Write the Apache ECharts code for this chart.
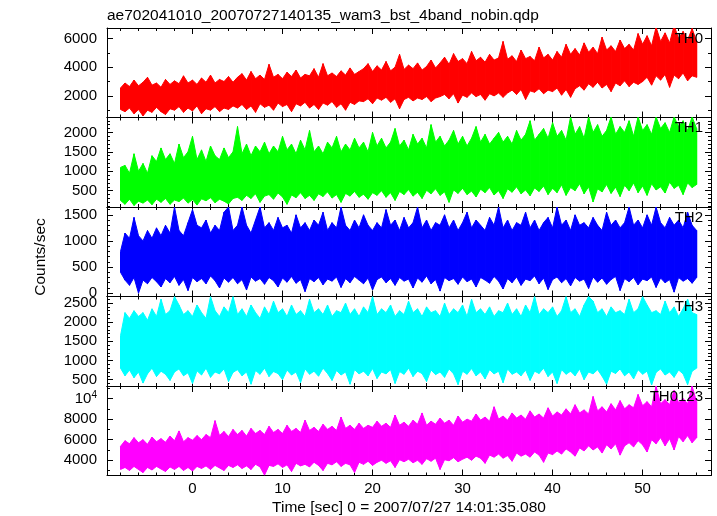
<!DOCTYPE html>
<html><head><meta charset="utf-8">
<script src="https://cdn.jsdelivr.net/npm/echarts@6/dist/echarts.min.js"></script>
<style>html,body{margin:0;padding:0;background:#fff}#c{width:717px;height:516px}</style>
</head><body><div id="c"></div>
<script>
// ---------- DATA (envelopes, one value per 0.5 s bin) ----------
const binStart = -8, binStep = 0.5;
const titleText = 'ae702041010_20070727140135_wam3_bst_4band_nobin.qdp';
const xTitle = 'Time [sec] 0 = 2007/07/27 14:01:35.080';
const yTitle = 'Counts/sec';
const panelNames = ['TH0', 'TH1', 'TH2', 'TH3', 'TH0123'];
const xLabels = [0, 10, 20, 30, 40, 50];
const xMinorTicks = [-8, -6, -4, -2, 2, 4, 6, 8, 12, 14, 16, 18, 22, 24, 26, 28, 32, 34, 36, 38, 42, 44, 46, 48, 52, 54, 56];
const yLabels = [[2000, 4000, 6000], [500, 1000, 1500, 2000], [0, 500, 1000, 1500], [500, 1000, 1500, 2000, 2500], [4000, 6000, 8000, 10000]];

const th0Hi = [2550,2900,2650,3100,2700,2950,3300,2750,2900,2600,3150,2800,
 3050,2850,3400,2900,3100,2800,3250,2950,3450,2900,3150,3000,3350,2950,
 3300,3550,3100,3700,3200,3450,3150,4200,3300,3500,3200,3650,3350,3800,3250,3500,3400,3900,3300,4250,3400,3600,3350,3750,3450,3950,3500,3700,
 3900,4250,3700,4100,3800,4400,3750,4000,4900,3850,4150,3900,4300,3800,4050,4500,3950,
 4300,4700,4200,4950,4400,4600,4250,5100,4450,4700,4350,4900,4500,4650,5800,
 4550,4800,4400,5200,4600,4750,4450,5400,4650,4900,4500,5100,4700,5600,
 4900,5300,4850,5700,5050,5400,4950,6100,5200,5500,5100,5900,5300,5600,5200,6350,
 5600,6200,5500,6800,5800,6400,5700,6900,6000,6500,5900,6700,5800];
const th0Lo = [1050,900,1150,750,1050,600,1000,850,1200,900,700,1100,
 1000,1250,850,1150,950,1300,750,1100,1000,1250,900,1150,1050,1300,
 1150,1400,1050,1300,850,1450,1200,1350,1000,1500,1250,1400,900,1450,1300,1550,1150,1400,1050,1500,1350,1600,1200,1450,1000,1550,1400,1650,
 1600,1800,1450,1850,1700,1900,1550,1800,1100,1750,1900,1650,1850,1750,1950,1600,1850,
 1950,2100,1800,2150,1500,2050,1900,2200,1950,2100,1700,2150,2000,2200,1900,
 2200,2400,2100,2450,1750,2350,2250,2500,2150,2400,2300,2550,2050,2450,
 1900,2500,2700,2400,2850,2600,2950,2550,2800,2300,2900,2700,3050,2650,2950,2800,
 3000,3300,2750,3400,3100,3500,2600,3450,3200,3600,3050,3400,3300];

const th1Hi = [1100,1150,950,1450,1000,1200,950,1400,
 1250,1600,1300,1450,1200,1700,1350,1500,1900,
 1300,1550,1250,1650,1400,1300,1600,1350,1500,
 2150,1450,1700,1400,1650,1500,
 1750,1450,1650,1500,1900,1550,1700,1450,1800,1550,2050,1500,1650,1450,1750,1600,1900,1500,1700,1550,1850,1600,1750,1500,2000,
 1650,1850,1600,1750,2100,1650,1800,1550,1950,1700,1850,1600,2200,1750,1900,1650,1800,2050,1700,1900,1650,1850,2150,1750,1950,1700,1850,2000,1750,1900,1700,2050,1800,1950,2300,1800,
 1950,2100,1850,2250,1900,2050,1800,2400,1950,2150,1850,2400,2000,2200,1900,2050,2400,1950,2150,2000,2300,1900,2400,2050,2200,1950,2400,2100,2250,2000,2400,2150,2300,2050,2400,2100];
const th1Lo = [250,150,280,120,230,180,260,140,
 280,200,300,150,260,220,310,180,270,130,290,240,320,190,280,230,160,300,
 330,250,380,300,420,200,360,400,280,440,340,150,390,320,450,300,380,250,420,350,470,310,400,200,430,360,480,330,410,280,450,
 380,500,330,450,250,480,400,530,360,460,300,510,420,550,380,470,200,520,430,560,400,490,340,540,450,580,390,500,300,550,460,600,420,520,370,570,
 480,620,400,560,450,650,380,580,500,680,420,600,210,550,470,660,430,590,350,640,500,700,450,620,380,680,520,600,440,720,560,640,400,700,580,660];

const th2Hi = [800,1150,1050,1450,1100,1000,1200,1050,1250,1100,
 1300,1150,1650,1200,1100,1350,1600,1300,1250,1400,
 1150,1300,1200,1550,1650,1200,1300,1650,1300,1150,
 1400,1650,1250,1350,1200,1450,1250,1300,1150,1500,
 1250,1350,1200,1400,1300,1550,1200,1350,1250,1650,
 1300,1200,1400,1250,1500,1300,1200,1350,1250,1600,
 1300,1400,1200,1450,1250,1350,1650,1250,1400,1200,
 1350,1300,1500,1250,1400,1200,1350,1550,1250,1400,
 1300,1200,1450,1300,1650,1250,1400,1200,1350,1300,
 1550,1250,1400,1200,1350,1450,1250,1650,1300,1400,
 1200,1500,1300,1350,1250,1450,1300,1200,1550,1300,
 1400,1250,1350,1650,1300,1400,1250,1500,1300,1650,
 1350,1250,1450,1300,1400,1250,1550,1300,1200];
const th2Lo = [400,250,150,300,0,250,180,300,220,120,
 280,200,320,150,260,50,300,220,280,180,
 330,240,100,290,210,300,180,260,60,310,
 230,280,170,300,240,120,290,210,320,190,
 260,30,280,220,300,160,270,230,310,110,
 280,200,320,250,180,290,60,260,310,200,
 280,150,300,230,270,100,290,210,330,180,
 260,40,300,240,280,170,310,220,270,120,
 300,250,190,320,230,80,280,200,310,150,
 270,240,330,180,290,70,260,310,200,280,
 140,300,230,270,90,310,210,290,170,260,
 320,50,280,220,300,160,270,240,310,110,
 290,200,260,20,300,230,280,190,300];

const th3Hi = [1650,2250,2100,2300,2150,2250,2050,2350,2150,2600,
 2200,2300,2672,2450,2200,2300,2150,2450,2250,2100,
 2672,2300,2150,2400,2250,2672,2200,2350,2150,2450,
 2250,2100,2400,2200,2550,2250,2350,2150,2450,2200,
 2300,2150,2600,2250,2350,2200,2450,2150,2300,2250,
 2500,2200,2350,2150,2400,2250,2672,2200,2350,2250,
 2450,2150,2300,2200,2550,2250,2350,2150,2400,2250,
 2300,2150,2500,2200,2350,2250,2450,2150,2600,2250,
 2350,2200,2400,2150,2300,2250,2500,2200,2350,2150,
 2450,2250,2672,2200,2350,2250,2400,2150,2300,2672,
 2250,2350,2150,2450,2672,2550,2250,2350,2150,2400,
 2250,2300,2200,2600,2250,2350,2672,2450,2250,2300,
 2200,2550,2250,2400,2150,2350,2600,2250,2200];
const th3Lo = [800,600,750,550,700,410,650,800,580,720,
 640,480,700,780,600,680,400,730,620,800,
 560,700,650,780,450,690,760,600,700,380,
 740,640,800,580,710,660,500,750,620,700,
 420,780,640,720,590,800,660,480,740,620,
 700,380,760,650,720,600,790,530,700,650,
 760,400,710,640,800,580,720,660,450,750,
 630,700,560,780,650,370,720,640,790,600,
 700,520,760,650,720,420,780,640,700,600,
 750,480,720,660,800,580,700,400,760,640,
 720,600,780,500,700,650,760,590,380,720,
 660,780,600,700,520,760,640,720,360,690,
 780,620,700,560,750,650,370,720,800];

const th0123Hi = [5350,5900,5600,6200,5700,6000,5550,6250,5800,
 6100,5750,6350,5900,6850,5800,6200,5950,6400,6000,
 6500,6200,7850,6400,6800,6300,7000,6500,6900,6350,7100,6600,6900,6500,7300,
 6700,7000,6600,7400,6800,7100,6700,7900,6900,7200,6800,7500,7000,7300,6900,8200,7100,7400,7000,7600,7100,7400,7200,
 7800,7300,7600,7200,8400,7400,7700,7300,7900,7500,8600,7400,7800,7500,8100,7600,7900,7400,8300,7700,
 8000,7800,8500,7900,8200,7800,9200,8000,8300,7900,8600,8100,8400,8000,8800,8200,8500,8100,9100,8300,
 8700,8400,9000,8500,9400,8600,8900,8500,10200,8800,9200,8700,9500,8900,9800,9000,
 9400,9100,10400,9300,9700,9200,11200,9500,9900,9400,10800,9600,10000,9500,11200,9700];
const th0123Lo = [3100,3300,3000,3400,3100,2800,3300,3050,3400,
 3150,2900,3350,3100,3400,3000,3300,2950,3400,3200,
 3450,3100,3500,3250,3000,3500,3300,3550,3200,3450,3100,3600,3350,2550,3500,
 3400,3650,3300,3550,2900,3700,3450,3600,3350,3800,3500,3000,3700,3550,3850,3400,3700,3550,2800,3800,3600,3900,3500,
 3800,4000,3700,3950,3300,4050,3850,4100,3750,4000,3600,4150,3900,4200,3100,4050,3950,4250,3850,4100,
 4300,4000,4400,4200,3700,4500,4300,4600,4200,4450,3900,4700,4400,4600,4300,4800,4500,3800,4700,4550,
 4900,4600,5100,4800,4400,5200,4900,5400,5000,5300,4700,5500,5100,5600,4500,5400,
 5700,5300,5900,5500,4800,6000,5600,6200,5400,6100,5000,6300,5800,6400,5700,6200];

const panelHi = [th0Hi, th1Hi, th2Hi, th3Hi, th0123Hi];
const panelLo = [th0Lo, th1Lo, th2Lo, th3Lo, th0123Lo];

// ---------- STYLE / LAYOUT ----------
const panelColors = ['#ff0000', '#00ff00', '#0000ff', '#00ffff', '#ff00ff'];
const yMin = [490, 80, -64, 333, 2515];
const yMax = [6740, 2384, 1650, 2672, 11223];
const xMin = -9.5, xMax = 57.6;
const FONT = '"Liberation Sans", Arial, Helvetica, sans-serif';
const FS = 15, FS_T = 15.5;
const BLACK = '#000';
const gridLeft = 107, gridWidth = 604, gridTop0 = 28, panelH = 89.5;

function steps(a, b, s, skip) {
  const r = [];
  for (let v = a; v <= b + 1e-9; v += s) if (skip.indexOf(v) < 0) r.push(v);
  return r;
}
const yMinorTicks = [
  [1000, 3000, 5000],
  steps(100, 2300, 100, yLabels[1]),
  steps(0, 1600, 100, yLabels[2]),
  steps(400, 2600, 100, yLabels[3]),
  [3000, 5000, 7000, 9000, 11000]
];

const grids = [], xAxes = [], yAxes = [], series = [], graphics = [];
const lineSt = { color: BLACK, width: 1 };

function mkX(k, pos, ticks, len, showLine, showLabel) {
  return {
    gridIndex: k, type: 'value', position: pos, min: xMin, max: xMax,
    axisLine: { show: showLine, onZero: false, lineStyle: lineSt },
    axisTick: { show: true, inside: true, length: len, customValues: ticks, lineStyle: lineSt },
    axisLabel: { show: showLabel, customValues: xLabels, margin: 6, color: BLACK, fontSize: FS, fontFamily: FONT },
    splitLine: { show: false }, minorTick: { show: false }
  };
}
function mkY(k, pos, ticks, len, showLine, showLabel) {
  return {
    gridIndex: k, type: 'value', position: pos, min: yMin[k], max: yMax[k],
    axisLine: { show: showLine, onZero: false, lineStyle: lineSt },
    axisTick: { show: true, inside: true, length: len, customValues: ticks, lineStyle: lineSt },
    axisLabel: {
      show: showLabel, customValues: yLabels[k], margin: 10, color: BLACK, fontSize: FS, fontFamily: FONT,
      formatter: function (v) { return v === 10000 ? '10{sup|4}' : String(v); },
      rich: { sup: { fontSize: 10, fontFamily: FONT, color: BLACK, verticalAlign: 'top', lineHeight: 16 } }
    },
    splitLine: { show: false }, minorTick: { show: false }
  };
}

// band segment between bin i and bin i+1, through the axes' scales
function makeRender(col) {
  return function (params, api) {
    const i = params.dataIndexInside;
    const n = params.dataInsideLength;
    const j = i < n - 1 ? i + 1 : i;
    const t0 = api.value(0), lo0 = api.value(1), hi0 = api.value(2);
    const t1 = api.value(0, j), lo1 = api.value(1, j), hi1 = api.value(2, j);
    const pts = [api.coord([t0, hi0]), api.coord([t1, hi1]), api.coord([t1, lo1]), api.coord([t0, lo0])];
    return {
      type: 'polygon', shape: { points: pts },
      style: { fill: col, stroke: col, lineWidth: 1 }
    };
  };
}

for (let k = 0; k < 5; k++) {
  const top = gridTop0 + k * panelH;
  grids.push({ left: gridLeft, width: gridWidth, top: top, height: panelH });
  xAxes.push(mkX(k, 'bottom', xLabels, 6, true, k === 4));
  xAxes.push(mkX(k, 'bottom', xMinorTicks, 3, false, false));
  xAxes.push(mkX(k, 'top', xLabels, 6, true, false));
  xAxes.push(mkX(k, 'top', xMinorTicks, 3, false, false));
  yAxes.push(mkY(k, 'left', yLabels[k], 6, true, true));
  yAxes.push(mkY(k, 'left', yMinorTicks[k], 3, false, false));
  yAxes.push(mkY(k, 'right', yLabels[k], 6, true, false));
  yAxes.push(mkY(k, 'right', yMinorTicks[k], 3, false, false));

  const hi = panelHi[k], lo = panelLo[k];
  series.push({
    type: 'custom', xAxisIndex: k * 4, yAxisIndex: k * 4,
    data: lo.map((v, i) => [binStart + i * binStep, v, hi[i]]),
    encode: { x: 0, y: [1, 2] },
    renderItem: makeRender(panelColors[k]),
    clip: true, silent: true, animation: false, z: 1
  });

  graphics.push({
    type: 'text', x: 703, y: top + 10.5, z: 100,
    style: { text: panelNames[k], fill: BLACK, font: FS + 'px ' + FONT, align: 'right', verticalAlign: 'middle', textAlign: 'right', textVerticalAlign: 'middle' }
  });
}

graphics.push({ type: 'text', x: 107, y: 16, style: { text: titleText, fill: BLACK, font: FS_T + 'px ' + FONT, align: 'left', verticalAlign: 'middle', textAlign: 'left', textVerticalAlign: 'middle' } });
graphics.push({ type: 'text', x: 409, y: 508, style: { text: xTitle, fill: BLACK, font: FS_T + 'px ' + FONT, align: 'center', verticalAlign: 'middle', textAlign: 'center', textVerticalAlign: 'middle' } });
graphics.push({ type: 'text', x: 41, y: 257, rotation: Math.PI / 2, style: { text: yTitle, fill: BLACK, font: FS_T + 'px ' + FONT, align: 'center', verticalAlign: 'middle', textAlign: 'center', textVerticalAlign: 'middle' } });

const chart = echarts.init(document.getElementById('c'), null, { renderer: 'canvas' });
chart.setOption({
  animation: false,
  backgroundColor: '#fff',
  textStyle: { fontFamily: FONT },
  grid: grids, xAxis: xAxes, yAxis: yAxes, series: series, graphic: graphics
});
</script>
</body></html>
